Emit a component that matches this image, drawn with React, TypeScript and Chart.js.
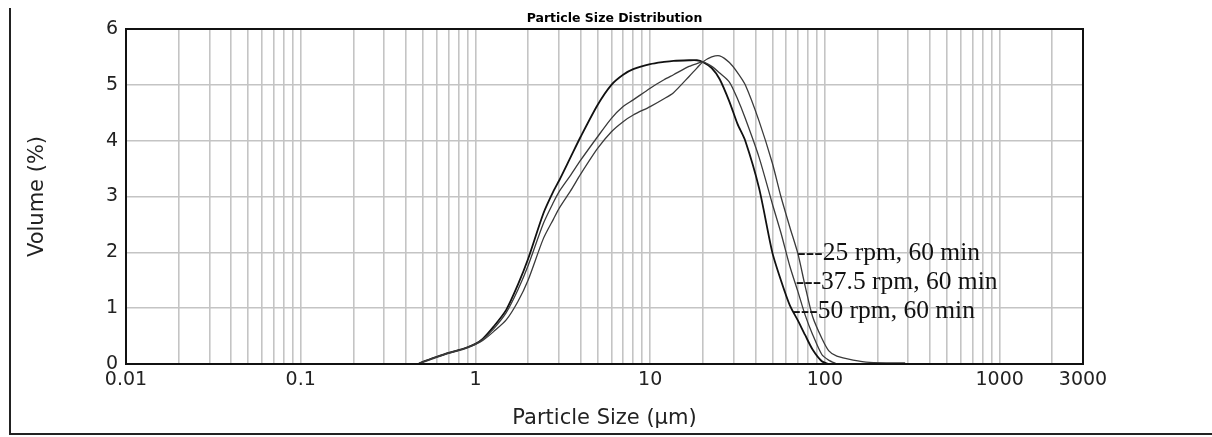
import React, { useEffect, useRef } from "react";
import { Chart, registerables } from "chart.js";

Chart.register(...registerables);

// Particle size grid (µm) at which the three curves were read
const SIZE_UM = [
  0.47, 0.5, 0.6, 0.7, 0.8, 0.9, 1.0, 1.1, 1.27, 1.5, 1.75, 2.0, 2.45, 2.8, 3.03, 3.5, 4.0, 5, 6, 7, 8, 10, 12,
  13.6, 16.7, 18.5, 20, 22.5, 25, 28.4, 31.6, 35, 42, 50, 56, 63, 70, 77, 85, 96, 105, 117, 145, 180, 288,
];

// Volume (%) for each series (null = no data)
const VOL_25RPM = [
  0, 0.03, 0.12, 0.19, 0.24, 0.29, 0.35, 0.42, 0.58, 0.79, 1.12, 1.5, 2.25, 2.6, 2.8, 3.1, 3.4, 3.86, 4.16,
  4.34, 4.46, 4.61, 4.75, 4.86, 5.15, 5.3, 5.41, 5.5, 5.52, 5.4, 5.22, 5.0, 4.35, 3.6, 3.0, 2.45, 1.98, 1.4,
  0.85, 0.46, 0.24, 0.14, 0.07, 0.03, 0.02,
];
const VOL_37RPM = [
  0, 0.04, 0.13, 0.2, 0.25, 0.3, 0.36, 0.44, 0.63, 0.92, 1.33, 1.76, 2.52, 2.9, 3.1, 3.38, 3.65, 4.07, 4.4,
  4.61, 4.73, 4.94, 5.09, 5.18, 5.33, 5.38, 5.41, 5.33, 5.21, 5.05, 4.75, 4.4, 3.7, 2.87, 2.35, 1.75, 1.3, 0.88,
  0.53, 0.17, 0.07, 0, null, null, null,
];
const VOL_50RPM = [
  0, 0.04, 0.13, 0.2, 0.25, 0.3, 0.36, 0.45, 0.67, 0.97, 1.42, 1.88, 2.7, 3.1, 3.3, 3.7, 4.07, 4.64, 5.0, 5.18,
  5.28, 5.37, 5.41, 5.43, 5.44, 5.44, 5.41, 5.3, 5.1, 4.7, 4.3, 4.0, 3.15, 2.0, 1.5, 1.05, 0.78, 0.52, 0.26,
  0.05, 0, null, null, null, null,
];

const SERIES_NAMES = ["25 rpm, 60 min", "37.5 rpm, 60 min", "50 rpm, 60 min"];

// Labels drawn next to the falling flanks (data coordinates)
const NOTE_TEXT = ["---25 rpm, 60 min", "---37.5 rpm, 60 min", "---50 rpm, 60 min"];
const NOTE_X = [69.5, 68, 65];
const NOTE_Y = [1.98, 1.46, 0.94];

const CHART_TITLE = "Particle Size Distribution";

// Axis tick labels
const X_TICK_LABELS = [0.01, 0.1, 1, 10, 100, 1000, 3000];
const Y_TICKS = [0, 1, 2, 3, 4, 5, 6];

const X_MIN = 0.01;
const X_MAX = 3000;

function buildGridValues(): number[] {
  const vals: number[] = [];
  for (let e = -2; e <= 3; e++) {
    for (let m = 1; m <= 9; m++) {
      const v = parseFloat((m * Math.pow(10, e)).toPrecision(3));
      if (v >= X_MIN && v <= X_MAX) vals.push(v);
    }
  }
  return vals;
}

function toPoints(vals: (number | null)[]) {
  const pts: { x: number; y: number }[] = [];
  vals.forEach((v, i) => {
    if (v !== null && v !== undefined) pts.push({ x: SIZE_UM[i], y: v });
  });
  return pts;
}

export default function App() {
  const canvasRef = useRef<HTMLCanvasElement | null>(null);

  useEffect(() => {
    document.body.style.margin = "0";
    const canvas = canvasRef.current;
    if (!canvas) return;
    const gridValues = buildGridValues();

    const framePlugin = {
      id: "frame",
      afterDatasetsDraw(chart: any) {
        const { ctx, chartArea, scales } = chart;
        ctx.save();
        // annotations
        ctx.font = '25.5px "Liberation Serif"';
        ctx.fillStyle = "#111";
        ctx.textAlign = "left";
        ctx.textBaseline = "middle";
        NOTE_TEXT.forEach((t, i) => {
          const x = scales.x.getPixelForValue(NOTE_X[i]);
          const y = scales.y.getPixelForValue(NOTE_Y[i]);
          ctx.fillText(t, x, y);
        });
        // plot frame
        ctx.strokeStyle = "#111";
        ctx.lineWidth = 2;
        ctx.strokeRect(chartArea.left, chartArea.top, chartArea.right - chartArea.left, chartArea.bottom - chartArea.top);
        // title
        ctx.font = 'bold 12.5px "DejaVu Sans"';
        ctx.fillStyle = "#000";
        ctx.textAlign = "center";
        ctx.textBaseline = "alphabetic";
        ctx.fillText(CHART_TITLE, (chartArea.left + chartArea.right) / 2 + 10, chartArea.top - 7);
        ctx.restore();
      },
    };

    const chart = new Chart(canvas, {
      type: "line",
      data: {
        datasets: [
          {
            label: SERIES_NAMES[0],
            data: toPoints(VOL_25RPM),
            borderColor: "#3a3a3a",
            borderWidth: 1.3,
            pointRadius: 0,
            tension: 0.25,
            fill: false,
          },
          {
            label: SERIES_NAMES[1],
            data: toPoints(VOL_37RPM),
            borderColor: "#3a3a3a",
            borderWidth: 1.3,
            pointRadius: 0,
            tension: 0.25,
            fill: false,
          },
          {
            label: SERIES_NAMES[2],
            data: toPoints(VOL_50RPM),
            borderColor: "#111",
            borderWidth: 1.8,
            pointRadius: 0,
            tension: 0.25,
            fill: false,
          },
        ],
      },
      options: {
        animation: false,
        responsive: true,
        maintainAspectRatio: false,
        layout: { padding: { left: 0, right: 129, top: 29, bottom: 0 } },
        plugins: {
          legend: { display: false },
          tooltip: { enabled: false },
          title: { display: false },
        },
        scales: {
          x: {
            type: "logarithmic",
            min: X_MIN,
            max: X_MAX,
            afterBuildTicks: (scale: any) => {
              scale.ticks = gridValues.map((v) => ({ value: v }));
            },
            afterFit: (scale: any) => {
              scale.height = 73;
            },
            ticks: {
              autoSkip: false,
              maxRotation: 0,
              minRotation: 0,
              padding: 5,
              color: "#222",
              font: { family: "DejaVu Sans", size: 19 },
              callback: (value: any) => {
                const v = Number(value);
                const hit = X_TICK_LABELS.find((t) => Math.abs(t - v) / t < 1e-6);
                return hit !== undefined ? String(hit) : "";
              },
            },
            grid: { color: "#c4c4c4", lineWidth: 1.6, drawTicks: false },
            border: { display: false },
            title: {
              display: true,
              text: "Particle Size (µm)",
              color: "#222",
              font: { family: "DejaVu Sans", size: 21 },
              padding: { top: 0, bottom: 6 },
            },
          },
          y: {
            type: "linear",
            min: Y_TICKS[0],
            max: Y_TICKS[Y_TICKS.length - 1],
            afterBuildTicks: (scale: any) => {
              scale.ticks = Y_TICKS.map((v) => ({ value: v }));
            },
            afterFit: (scale: any) => {
              scale.width = 126;
            },
            ticks: {
              padding: 8,
              color: "#222",
              font: { family: "DejaVu Sans", size: 19 },
            },
            grid: { color: "#c4c4c4", lineWidth: 1.6, drawTicks: false },
            border: { display: false },
            title: {
              display: true,
              text: "Volume (%)",
              color: "#222",
              font: { family: "DejaVu Sans", size: 21 },
              padding: { top: 25, bottom: 0 },
            },
          },
        },
      },
      plugins: [framePlugin],
    } as any);

    return () => chart.destroy();
  }, []);

  return (
    <div style={{ position: "relative", width: 1212, height: 437, background: "#fff" }}>
      <div style={{ position: "absolute", left: 9, top: 8, width: 2, height: 427, background: "#222" }} />
      <div style={{ position: "absolute", left: 9, top: 433, width: 1203, height: 2, background: "#222" }} />
      <div style={{ position: "absolute", left: 0, top: 0, width: 1212, height: 437 }}>
        <canvas ref={canvasRef} />
      </div>
    </div>
  );
}
